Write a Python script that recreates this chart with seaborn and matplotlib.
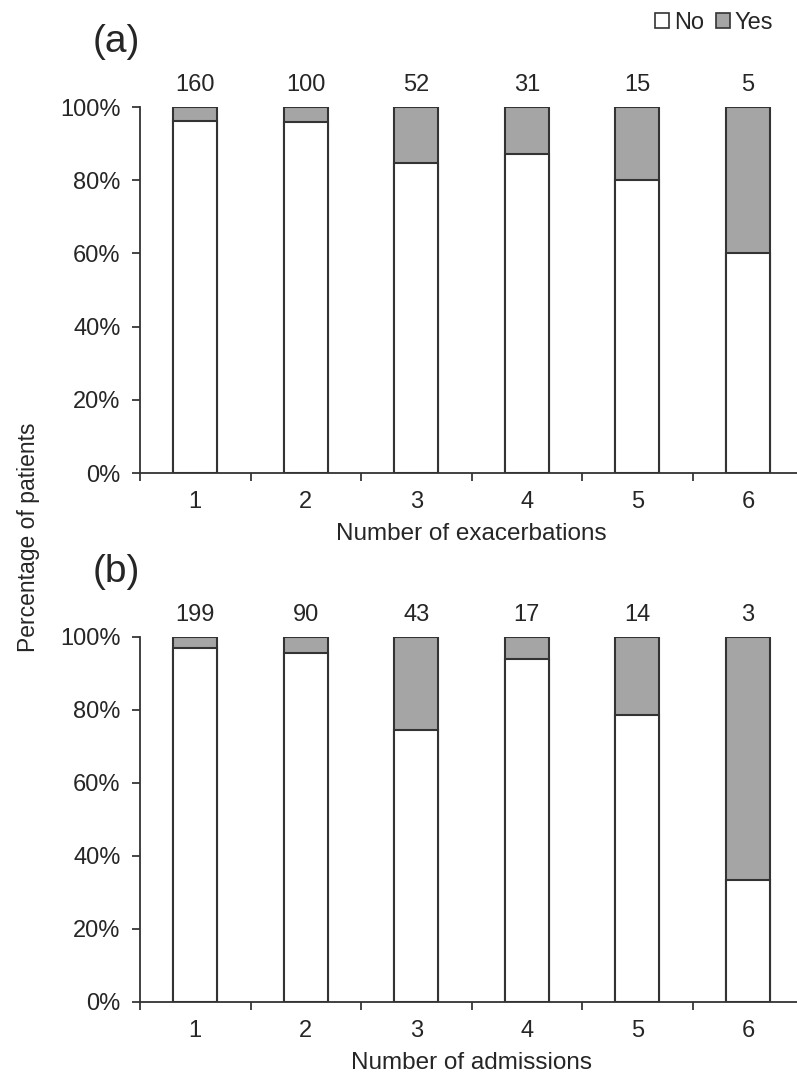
import matplotlib
matplotlib.use("Agg")
import matplotlib.pyplot as plt
from matplotlib.ticker import PercentFormatter
from matplotlib.patches import Patch
import seaborn as sns
import pandas as pd
import numpy as np

# categories (number of events) and patients per category
categories = ["1", "2", "3", "4", "5", "6"]
counts_exac = [160, 100, 52, 31, 15, 5]
counts_adm = [199, 90, 43, 17, 14, 3]

# percentage of patients answering "No"
no_exac = [96.3, 96.0, 84.6, 87.1, 80.0, 60.0]
no_adm = [97.0, 95.6, 74.4, 94.1, 78.6, 33.3]

sns.set_theme(style="white")
plt.rcParams["font.family"] = ["Liberation Sans", "DejaVu Sans"]
plt.rcParams["text.color"] = "#262626"
plt.rcParams["axes.labelcolor"] = "#262626"
plt.rcParams["xtick.color"] = "#262626"
plt.rcParams["ytick.color"] = "#262626"

gray = "#a5a5a5"
edge = "#333333"

fig = plt.figure(figsize=(7.97, 10.76), dpi=100)
ax1 = fig.add_axes([0.1757, 0.5604, 0.832, 0.3401])
ax2 = fig.add_axes([0.1757, 0.0688, 0.832, 0.3392])


def draw_panel(ax, no_vals, counts, xlabel, tag):
    df = pd.DataFrame({"cat": categories, "no": no_vals, "total": [100] * len(categories)})
    # "Yes" part = full bar in gray, "No" part drawn on top in white
    sns.barplot(data=df, x="cat", y="total", color=gray, width=0.4, saturation=1,
                edgecolor=edge, linewidth=1.5, ax=ax)
    sns.barplot(data=df, x="cat", y="no", color="white", width=0.4, saturation=1,
                edgecolor=edge, linewidth=1.5, ax=ax)
    for i, n in enumerate(counts):
        ax.annotate(str(n), (i, 100), xytext=(0, 8), textcoords="offset points",
                    ha="center", va="bottom", fontsize=17)
    ax.set_ylim(0, 100)
    ax.set_xlim(-0.5, len(categories) - 0.5)
    ax.yaxis.set_major_formatter(PercentFormatter(100, decimals=0))
    ax.set_yticks(np.arange(0, 101, 20))
    ax.set_xticks(range(len(categories)))
    ax.set_xticks(np.arange(-0.5, len(categories), 1), minor=True)
    ax.tick_params(axis="x", which="major", length=0, pad=13, labelsize=17)
    ax.tick_params(axis="x", which="minor", length=6, width=1.2, direction="out", bottom=True)
    ax.tick_params(axis="y", length=6, width=1.2, direction="out", left=True, pad=8, labelsize=17)
    ax.set_xlabel(xlabel, fontsize=17.5, labelpad=7)
    ax.set_ylabel("")
    for s in ["top", "right"]:
        ax.spines[s].set_visible(False)
    for s in ["left", "bottom"]:
        ax.spines[s].set_color(edge)
        ax.spines[s].set_linewidth(1.3)
    ax.text(-0.072, 1.178, tag, transform=ax.transAxes, fontsize=28, ha="left", va="center")


draw_panel(ax1, no_exac, counts_exac, "Number of exacerbations", "(a)")
draw_panel(ax2, no_adm, counts_adm, "Number of admissions", "(b)")

fig.text(0.036, 0.501, "Percentage of patients", rotation=90, ha="center", va="center", fontsize=16.5)

handles = [Patch(facecolor="white", edgecolor=edge, linewidth=1.2, label="No"),
           Patch(facecolor=gray, edgecolor=edge, linewidth=1.2, label="Yes")]
fig.legend(handles=handles, loc="upper right", bbox_to_anchor=(0.985, 1.0), ncol=2,
           frameon=False, fontsize=17, handlelength=0.6, handleheight=0.6,
           handletextpad=0.2, columnspacing=0.5, borderaxespad=0.1)

fig.savefig("out.png", dpi=100)
